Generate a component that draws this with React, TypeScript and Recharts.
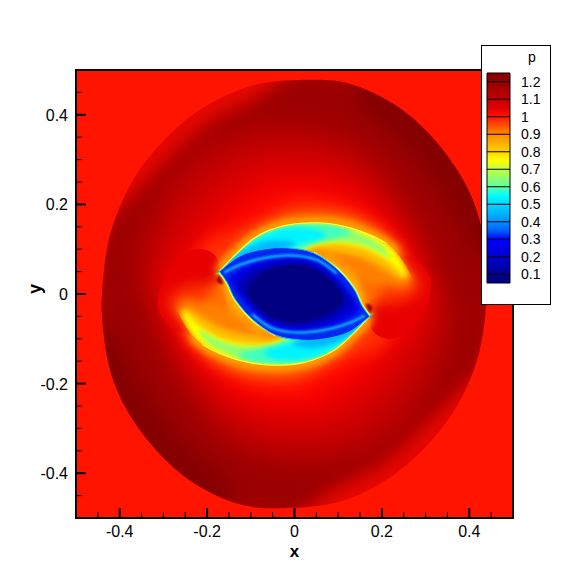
import React from 'react';
import { ScatterChart, Scatter, XAxis, YAxis, BarChart, Bar, ReferenceLine } from 'recharts';

type P = [number, number];

const MAJOR_TICKS = [-0.4, -0.2, 0, 0.2, 0.4];
const MINOR_TICKS = [-0.45, -0.35, -0.3, -0.25, -0.15, -0.1, -0.05, 0.05, 0.1, 0.15, 0.25, 0.3, 0.35, 0.45];
const LEVELS = [1.2, 1.1, 1, 0.9, 0.8, 0.7, 0.6, 0.5, 0.4, 0.3, 0.2, 0.1];
const LEVEL_RANGE: P = [0.05, 1.25];
const COLOR_VALUES = [1.25, 1.2, 1.1, 1.05, 1.0, 0.95, 0.9, 0.8, 0.75, 0.7, 0.6, 0.55, 0.5, 0.4, 0.35, 0.3, 0.2, 0.1, 0.05];
const COLOR_STOPS = ['#800000', '#960000', '#c00000', '#e00000', '#ff1400', '#ff5000', '#ff8c00', '#ffd000', '#ffff00', '#c0ff40', '#60ffa0', '#00ffff', '#00d8ff', '#0090ff', '#0060ff', '#0000ff', '#0000d0', '#000090', '#000080'];

const FRAME: P[] = [[-0.5, 0.5], [0.5, 0.5], [0.5, -0.5], [-0.5, -0.5]];
const SHOCK: P[] = [[0.024, 0.478], [0.127, 0.469], [0.23, 0.422], [0.31, 0.355], [0.379, 0.266], [0.42, 0.176], [0.438, 0.076], [0.44, -0.009], [0.422, -0.132], [0.376, -0.243], [0.308, -0.333], [0.216, -0.411], [0.102, -0.464], [-0.024, -0.478], [-0.127, -0.469], [-0.23, -0.422], [-0.31, -0.355], [-0.379, -0.266], [-0.42, -0.176], [-0.438, -0.076], [-0.44, 0.009], [-0.422, 0.132], [-0.376, 0.243], [-0.308, 0.333], [-0.216, 0.411], [-0.102, 0.464]];
const DARK_BAND: P[] = [[0.02, 0.5], [0.2, 0.48], [0.35, 0.4], [0.45, 0.27], [0.48, 0.1], [0.46, 0], [0.44, -0.14], [0.36, -0.23], [0.28, -0.305], [0.195, -0.38], [0.09, -0.435], [-0.02, -0.5], [-0.2, -0.48], [-0.35, -0.4], [-0.45, -0.27], [-0.48, -0.1], [-0.46, 0], [-0.44, 0.14], [-0.36, 0.23], [-0.28, 0.305], [-0.195, 0.38], [-0.09, 0.435]];
const CRESCENT_UR: P[] = [[0.15, 0.48], [0.3, 0.43], [0.42, 0.3], [0.5, 0.1], [0.42, 0.09], [0.36, 0.19], [0.295, 0.28], [0.22, 0.36], [0.16, 0.41]];
const CRESCENT_LL: P[] = [[-0.15, -0.48], [-0.3, -0.43], [-0.42, -0.3], [-0.5, -0.1], [-0.42, -0.09], [-0.36, -0.19], [-0.295, -0.28], [-0.22, -0.36], [-0.16, -0.41]];
const HALO_1: P[] = [[0, 0.38], [0.1, 0.36], [0.19, 0.3], [0.25, 0.22], [0.3, 0.14], [0.33, 0.05], [0.36, -0.02], [0.36, -0.1], [0.33, -0.19], [0.27, -0.29], [0.19, -0.35], [0.08, -0.38], [0, -0.38], [-0.1, -0.36], [-0.19, -0.3], [-0.25, -0.22], [-0.3, -0.14], [-0.33, -0.05], [-0.36, 0.02], [-0.36, 0.1], [-0.33, 0.19], [-0.27, 0.29], [-0.19, 0.35], [-0.08, 0.38]];
const HALO_2: P[] = [[0, 0.33], [0.09, 0.315], [0.16, 0.27], [0.22, 0.2], [0.265, 0.13], [0.29, 0.06], [0.325, -0.03], [0.31, -0.1], [0.27, -0.19], [0.2, -0.27], [0.13, -0.31], [0.05, -0.33], [0, -0.33], [-0.09, -0.315], [-0.16, -0.27], [-0.22, -0.2], [-0.265, -0.13], [-0.29, -0.06], [-0.325, 0.03], [-0.31, 0.1], [-0.27, 0.19], [-0.2, 0.27], [-0.13, 0.31], [-0.05, 0.33]];
const HALO_3: P[] = [[0, 0.28], [0.08, 0.27], [0.15, 0.235], [0.2, 0.18], [0.25, 0.12], [0.28, 0.06], [0.3, -0.03], [0.27, -0.09], [0.22, -0.16], [0.16, -0.22], [0.1, -0.26], [0.03, -0.28], [0, -0.28], [-0.08, -0.27], [-0.15, -0.235], [-0.2, -0.18], [-0.25, -0.12], [-0.28, -0.06], [-0.3, 0.03], [-0.27, 0.09], [-0.22, 0.16], [-0.16, 0.22], [-0.1, 0.26], [-0.03, 0.28]];
const HALO_4: P[] = [[0, 0.235], [0.08, 0.23], [0.15, 0.2], [0.2, 0.16], [0.24, 0.115], [0.27, 0.05], [0.27, -0.02], [0.22, -0.09], [0.17, -0.15], [0.1, -0.2], [0.04, -0.23], [0, -0.235], [-0.08, -0.23], [-0.15, -0.2], [-0.2, -0.16], [-0.24, -0.115], [-0.27, -0.05], [-0.27, 0.02], [-0.22, 0.09], [-0.17, 0.15], [-0.1, 0.2], [-0.04, 0.23]];
const HALO_5: P[] = [[0, 0.205], [0.08, 0.2], [0.14, 0.18], [0.19, 0.15], [0.235, 0.105], [0.26, 0.05], [0.25, -0.03], [0.2, -0.115], [0.15, -0.135], [0.09, -0.16], [0.03, -0.19], [0, -0.205], [-0.08, -0.2], [-0.14, -0.18], [-0.19, -0.15], [-0.235, -0.105], [-0.26, -0.05], [-0.25, 0.03], [-0.2, 0.115], [-0.15, 0.135], [-0.09, 0.16], [-0.03, 0.19]];
const HALO_6: P[] = [[-0.175, 0.06], [-0.13, 0.115], [-0.08, 0.15], [-0.02, 0.176], [0.05, 0.183], [0.12, 0.175], [0.18, 0.15], [0.22, 0.12], [0.24, 0.09], [0.17, -0.045], [0.175, -0.06], [0.13, -0.115], [0.08, -0.15], [0.02, -0.176], [-0.05, -0.183], [-0.12, -0.175], [-0.18, -0.15], [-0.22, -0.12], [-0.24, -0.09], [-0.17, 0.045]];
const HALO_7: P[] = [[-0.172, 0.055], [-0.135, 0.1], [-0.09, 0.137], [-0.026, 0.163], [0.05, 0.17], [0.12, 0.162], [0.175, 0.142], [0.215, 0.12], [0.235, 0.09], [0.15, 0.05], [0.172, -0.055], [0.135, -0.1], [0.09, -0.137], [0.026, -0.163], [-0.05, -0.17], [-0.12, -0.162], [-0.175, -0.142], [-0.215, -0.12], [-0.235, -0.09], [-0.15, -0.05]];
const BUBBLE_R: P[] = [[0.169, -0.054], [0.177, -0.08], [0.199, -0.097], [0.23, -0.099], [0.26, -0.082], [0.291, -0.047], [0.309, -0.006], [0.312, 0.031], [0.295, 0.06], [0.25, 0.085], [0.15, 0.04], [0.14, -0.02]];
const BUBBLE_L: P[] = [[-0.169, 0.054], [-0.177, 0.08], [-0.199, 0.097], [-0.23, 0.099], [-0.26, 0.082], [-0.291, 0.047], [-0.309, 0.006], [-0.312, -0.031], [-0.295, -0.06], [-0.25, -0.085], [-0.15, -0.04], [-0.14, 0.02]];
const ENVELOPE: P[] = [[-0.172, 0.05], [-0.172, 0.05], [-0.132, 0.091], [-0.087, 0.128], [-0.026, 0.152], [0.051, 0.159], [0.119, 0.15], [0.173, 0.132], [0.211, 0.113], [0.241, 0.083], [0.264, 0.046], [0.28, 0.009], [0.23, -0.02], [0.172, -0.05], [0.172, -0.05], [0.132, -0.091], [0.087, -0.128], [0.026, -0.152], [-0.051, -0.159], [-0.119, -0.15], [-0.173, -0.132], [-0.211, -0.113], [-0.241, -0.083], [-0.264, -0.046], [-0.28, -0.009], [-0.23, 0.02]];

const ARM_RED_R: P[] = [[0.06, 0.12], [0.17, 0.12], [0.22, 0.1], [0.25, 0.075], [0.27, 0.05], [0.29, 0.015], [0.25, -0.015], [0.196, -0.021], [0.157, -0.006], [0.135, 0.031]];
const ARM_RED_L: P[] = [[-0.06, -0.12], [-0.17, -0.12], [-0.22, -0.1], [-0.25, -0.075], [-0.27, -0.05], [-0.29, -0.015], [-0.25, 0.015], [-0.196, 0.021], [-0.157, 0.006], [-0.135, -0.031]];
const ARM_ORANGE_R: P[] = [[-0.172, 0.05], [-0.132, 0.091], [-0.087, 0.128], [-0.026, 0.155], [0.051, 0.162], [0.119, 0.153], [0.173, 0.134], [0.211, 0.113], [0.241, 0.083], [0.26, 0.05], [0.27, 0.03], [0.25, 0.012], [0.22, 0.018], [0.18, 0.025], [0.142, 0.039], [0.104, 0.065], [0.058, 0.087]];
const ARM_ORANGE_L: P[] = [[0.172, -0.05], [0.132, -0.091], [0.087, -0.128], [0.026, -0.155], [-0.051, -0.162], [-0.119, -0.153], [-0.173, -0.134], [-0.211, -0.113], [-0.241, -0.083], [-0.26, -0.05], [-0.27, -0.03], [-0.25, -0.012], [-0.22, -0.018], [-0.18, -0.025], [-0.142, -0.039], [-0.104, -0.065], [-0.058, -0.087]];
const ARM_GOLD_R: P[] = [[-0.172, 0.05], [-0.132, 0.093], [-0.087, 0.13], [-0.026, 0.155], [0.051, 0.162], [0.119, 0.153], [0.173, 0.135], [0.211, 0.116], [0.241, 0.085], [0.264, 0.046], [0.241, 0.035], [0.203, 0.057], [0.157, 0.08], [0.112, 0.091], [0.066, 0.097], [0.035, 0.098]];
const ARM_GOLD_L: P[] = [[0.172, -0.05], [0.132, -0.093], [0.087, -0.13], [0.026, -0.155], [-0.051, -0.162], [-0.119, -0.153], [-0.173, -0.135], [-0.211, -0.116], [-0.241, -0.085], [-0.264, -0.046], [-0.241, -0.035], [-0.203, -0.057], [-0.157, -0.08], [-0.112, -0.091], [-0.066, -0.097], [-0.035, -0.098]];
const ARM_YELLOW_R: P[] = [[-0.172, 0.05], [-0.132, 0.093], [-0.087, 0.13], [-0.026, 0.155], [0.051, 0.162], [0.119, 0.153], [0.173, 0.135], [0.226, 0.098], [0.249, 0.057], [0.253, 0.037], [0.222, 0.068], [0.18, 0.094], [0.135, 0.109], [0.081, 0.113], [0.043, 0.106], [0.02, 0.098]];
const ARM_YELLOW_L: P[] = [[0.172, -0.05], [0.132, -0.093], [0.087, -0.13], [0.026, -0.155], [-0.051, -0.162], [-0.119, -0.153], [-0.173, -0.135], [-0.226, -0.098], [-0.249, -0.057], [-0.253, -0.037], [-0.222, -0.068], [-0.18, -0.094], [-0.135, -0.109], [-0.081, -0.113], [-0.043, -0.106], [-0.02, -0.098]];
const ARM_GREEN_R: P[] = [[-0.172, 0.05], [-0.132, 0.092], [-0.087, 0.128], [-0.026, 0.152], [0.051, 0.158], [0.119, 0.147], [0.165, 0.128], [0.2, 0.107], [0.219, 0.08], [0.184, 0.098], [0.142, 0.113], [0.089, 0.118], [0.043, 0.112], [0.005, 0.098]];
const ARM_GREEN_L: P[] = [[0.172, -0.05], [0.132, -0.092], [0.087, -0.128], [0.026, -0.152], [-0.051, -0.158], [-0.119, -0.147], [-0.165, -0.128], [-0.2, -0.107], [-0.219, -0.08], [-0.184, -0.098], [-0.142, -0.113], [-0.089, -0.118], [-0.043, -0.112], [-0.005, -0.098]];
const ARM_AQUA_R: P[] = [[-0.172, 0.05], [-0.132, 0.09], [-0.087, 0.127], [-0.026, 0.15], [0.05, 0.155], [0.1, 0.15], [0.128, 0.136], [0.09, 0.124], [0.045, 0.114], [0.005, 0.098]];
const ARM_AQUA_L: P[] = [[0.172, -0.05], [0.132, -0.09], [0.087, -0.127], [0.026, -0.15], [-0.05, -0.155], [-0.1, -0.15], [-0.128, -0.136], [-0.09, -0.124], [-0.045, -0.114], [-0.005, -0.098]];
const ARM_CYAN_R: P[] = [[-0.172, 0.05], [-0.132, 0.088], [-0.087, 0.123], [-0.026, 0.145], [0.025, 0.148], [0.06, 0.14], [0.07, 0.128], [0.04, 0.118], [0.01, 0.11], [-0.018, 0.1]];
const ARM_CYAN_L: P[] = [[0.172, -0.05], [0.132, -0.088], [0.087, -0.123], [0.026, -0.145], [-0.025, -0.148], [-0.06, -0.14], [-0.07, -0.128], [-0.04, -0.118], [-0.01, -0.11], [0.018, -0.1]];
const ARM_DEEP_R: P[] = [[-0.172, 0.05], [-0.135, 0.086], [-0.09, 0.11], [-0.04, 0.12], [0.005, 0.112], [-0.03, 0.1]];
const ARM_DEEP_L: P[] = [[0.172, -0.05], [0.135, -0.086], [0.09, -0.11], [0.04, -0.12], [-0.005, -0.112], [0.03, -0.1]];
const RIM_R: P[] = [[-0.172, 0.05], [-0.132, 0.091], [-0.087, 0.128], [-0.026, 0.152], [0.051, 0.159], [0.119, 0.15], [0.173, 0.132], [0.211, 0.113]];
const RIM_L: P[] = [[0.172, -0.05], [0.132, -0.091], [0.087, -0.128], [0.026, -0.152], [-0.051, -0.159], [-0.119, -0.15], [-0.173, -0.132], [-0.211, -0.113]];
const LENS: P[] = [[-0.172, 0.05], [-0.172, 0.05], [-0.125, 0.085], [-0.071, 0.1], [-0.018, 0.103], [0.043, 0.092], [0.096, 0.057], [0.135, 0.013], [0.154, -0.025], [0.172, -0.05], [0.172, -0.05], [0.125, -0.085], [0.071, -0.1], [0.018, -0.103], [-0.043, -0.092], [-0.096, -0.057], [-0.135, -0.013], [-0.154, 0.025]];
const LENS_EDGE_R: P[] = [[0.043, 0.092], [0.096, 0.057], [0.135, 0.013], [0.154, -0.025], [0.172, -0.05]];
const LENS_EDGE_L: P[] = [[-0.043, -0.092], [-0.096, -0.057], [-0.135, -0.013], [-0.154, 0.025], [-0.172, 0.05]];
const LENS_BLUE: P[] = [[-0.148, 0.037], [-0.102, 0.065], [-0.048, 0.077], [0.005, 0.081], [0.058, 0.067], [0.104, 0.028], [0.135, -0.013], [0.148, -0.037], [0.102, -0.065], [0.048, -0.077], [-0.005, -0.081], [-0.058, -0.067], [-0.104, -0.028], [-0.135, 0.013]];
const LENS_DEEP: P[] = [[-0.132, 0.02], [-0.094, 0.054], [-0.041, 0.07], [0.013, 0.072], [0.066, 0.054], [0.112, 0.009], [0.132, -0.02], [0.094, -0.054], [0.041, -0.07], [-0.013, -0.072], [-0.066, -0.054], [-0.112, -0.009]];
const LENS_CORE: P[] = [[-0.106, 0.02], [-0.071, 0.05], [-0.026, 0.064], [0.02, 0.065], [0.066, 0.046], [0.104, 0.009], [0.109, -0.021], [0.074, -0.047], [0.028, -0.063], [-0.018, -0.064], [-0.064, -0.047], [-0.102, -0.01]];
const STREAK_U: P[] = [[-0.161, 0.048], [-0.125, 0.065], [-0.071, 0.08], [-0.01, 0.086], [0.051, 0.076], [0.096, 0.046]];
const STREAK_D: P[] = [[0.161, -0.048], [0.125, -0.065], [0.071, -0.08], [0.01, -0.086], [-0.051, -0.076], [-0.096, -0.046]];
const SPOT_R: P[] = [[0.163, -0.022], [0.178, -0.028], [0.172, -0.042]];
const SPOT_L: P[] = [[-0.163, 0.022], [-0.178, 0.028], [-0.172, 0.042]];

type Layer = { points: P[]; fill?: string; blur?: number; clip?: string; stroke?: string; sw?: number; open?: boolean; straight?: boolean; defineClip?: string };

const LAYERS: Layer[] = [
  { points: FRAME, fill: '#ff1400', straight: true },
  { points: SHOCK, fill: '#e60800', defineClip: 'shockClip' },
  { points: DARK_BAND, fill: '#9c0000', blur: 9, clip: 'shockClip' },
  { points: CRESCENT_UR, fill: '#860000', blur: 9, clip: 'shockClip' },
  { points: CRESCENT_LL, fill: '#860000', blur: 9, clip: 'shockClip' },
  { points: HALO_1, fill: '#b60000', blur: 13, clip: 'shockClip' },
  { points: HALO_2, fill: '#d20000', blur: 13 },
  { points: HALO_3, fill: '#ec0000', blur: 12 },
  { points: HALO_4, fill: '#ff0800', blur: 10 },
  { points: HALO_5, fill: '#ff3000', blur: 8 },
  { points: BUBBLE_R, fill: '#e80000', blur: 0.6 },
  { points: BUBBLE_L, fill: '#e80000', blur: 0.6 },
  { points: ENVELOPE, defineClip: 'envClip' },
  { points: ARM_RED_R, fill: '#ff3800', blur: 7 },
  { points: ARM_RED_L, fill: '#ff3800', blur: 7 },
  { points: HALO_6, fill: '#ff7000', blur: 6 },
  { points: HALO_7, fill: '#ffb000', blur: 3 },
  { points: ARM_ORANGE_R, fill: '#ff8000', blur: 4 },
  { points: ARM_ORANGE_L, fill: '#ff8000', blur: 4 },
  { points: ARM_GOLD_R, fill: '#ffc000', blur: 3, clip: 'envClip' },
  { points: ARM_GOLD_L, fill: '#ffc000', blur: 3, clip: 'envClip' },
  { points: ARM_YELLOW_R, fill: '#ffff00', blur: 2.5, clip: 'envClip' },
  { points: ARM_YELLOW_L, fill: '#ffff00', blur: 2.5, clip: 'envClip' },
  { points: ARM_GREEN_R, fill: '#90ff70', blur: 2, clip: 'envClip' },
  { points: ARM_GREEN_L, fill: '#90ff70', blur: 2, clip: 'envClip' },
  { points: ARM_AQUA_R, fill: '#40ffc0', blur: 2.5, clip: 'envClip' },
  { points: ARM_AQUA_L, fill: '#40ffc0', blur: 2.5, clip: 'envClip' },
  { points: ARM_CYAN_R, fill: '#00f4ff', blur: 2.5, clip: 'envClip' },
  { points: ARM_CYAN_L, fill: '#00f4ff', blur: 2.5, clip: 'envClip' },
  { points: ARM_DEEP_R, fill: '#00b8ff', blur: 2, clip: 'envClip' },
  { points: ARM_DEEP_L, fill: '#00b8ff', blur: 2, clip: 'envClip' },
  { points: RIM_R, stroke: '#ffff30', sw: 1.2, open: true },
  { points: RIM_L, stroke: '#ffff30', sw: 1.2, open: true },
  { points: SPOT_R, fill: '#a00000', blur: 1 },
  { points: SPOT_L, fill: '#a00000', blur: 1 },
  { points: LENS_EDGE_R, stroke: '#ffff40', sw: 3, open: true },
  { points: LENS_EDGE_L, stroke: '#ffff40', sw: 3, open: true },
  { points: LENS, fill: '#0028f0', stroke: '#00d0ff', sw: 1, defineClip: 'lensClip' },
  { points: LENS_BLUE, fill: '#0000e8', blur: 2, clip: 'lensClip' },
  { points: STREAK_U, stroke: '#10c0ff', sw: 2.5, blur: 1, open: true, clip: 'lensClip' },
  { points: STREAK_D, stroke: '#10c0ff', sw: 2.5, blur: 1, open: true, clip: 'lensClip' },
  { points: LENS_DEEP, fill: '#0000b0', blur: 3, clip: 'lensClip' },
  { points: LENS_CORE, fill: '#000080', blur: 1 },
];

function buildPath(pts: { x: number; y: number }[], layer: Layer): string {
  const n = pts.length;
  if (layer.straight) return 'M' + pts.map((p) => `${p.x},${p.y}`).join('L') + 'Z';
  const at = (i: number) => (layer.open ? pts[Math.max(0, Math.min(n - 1, i))] : pts[(i + n) % n]);
  let d = `M${pts[0].x},${pts[0].y}`;
  const last = layer.open ? n - 1 : n;
  for (let i = 0; i < last; i++) {
    const p0 = at(i - 1), p1 = at(i), p2 = at(i + 1), p3 = at(i + 2);
    const c1x = p1.x + (p2.x - p0.x) / 6, c1y = p1.y + (p2.y - p0.y) / 6;
    const c2x = p2.x - (p3.x - p1.x) / 6, c2y = p2.y - (p3.y - p1.y) / 6;
    d += `C${c1x},${c1y} ${c2x},${c2y} ${p2.x},${p2.y}`;
  }
  return layer.open ? d : d + 'Z';
}

const makeRenderer = (layer: Layer, index: number) => (props: any) => {
  const d = buildPath(props.points, layer);
  const filterId = `blur${index}`;
  const draw = layer.fill || layer.stroke;
  return (
    <g clipPath={layer.clip ? `url(#${layer.clip})` : undefined}>
      {layer.defineClip && (
        <clipPath id={layer.defineClip}>
          <path d={d} />
        </clipPath>
      )}
      {layer.blur ? (
        <filter id={filterId} x="-40%" y="-40%" width="180%" height="180%" colorInterpolationFilters="sRGB">
          <feGaussianBlur stdDeviation={layer.blur} />
        </filter>
      ) : null}
      {draw ? (
        <path
          d={d}
          fill={layer.fill ?? 'none'}
          stroke={layer.stroke ?? 'none'}
          strokeWidth={layer.sw ?? 0}
          filter={layer.blur ? `url(#${filterId})` : undefined}
        />
      ) : null}
    </g>
  );
};

const noMark = () => <g />;
const FONT = '"Liberation Sans", Arial, sans-serif';
const fmt = (v: number) => String(v);
const isMajor = (v: number) => MAJOR_TICKS.includes(v);

const XTick = ({ x, y, payload }: any) => {
  const v = payload.value;
  const major = isMajor(v);
  return (
    <g>
      <line x1={x} x2={x} y1={y} y2={y - (major ? 10 : 6)} stroke="#000" strokeWidth={major ? 2 : 1} />
      {major && (
        <text x={x} y={y + 19} textAnchor="middle" fontSize={16} fill="#000" fontFamily={FONT}>
          {fmt(v)}
        </text>
      )}
    </g>
  );
};

const YTick = ({ x, y, payload }: any) => {
  const v = payload.value;
  const major = isMajor(v);
  return (
    <g>
      <line x1={x} x2={x + (major ? 10 : 6)} y1={y} y2={y} stroke="#000" strokeWidth={major ? 2 : 1} />
      {major && (
        <text x={x - 8} y={y + 6} textAnchor="end" fontSize={16} fill="#000" fontFamily={FONT}>
          {fmt(v)}
        </text>
      )}
    </g>
  );
};

const BAR_ROWS = [{ name: 'p', range: LEVEL_RANGE }];
const ALL_TICKS = [...MAJOR_TICKS, ...MINOR_TICKS];

export default function App() {
  return (
    <div style={{ position: 'absolute', left: 0, top: 0, width: 583, height: 583, background: '#fff' }}>
      <ScatterChart width={583} height={583} margin={{ top: 70, right: 70, bottom: 0, left: 0 }}>
        {LAYERS.map((layer, i) => (
          <Scatter
            key={i}
            data={layer.points.map(([x, y]) => ({ x, y }))}
            dataKey="y"
            isAnimationActive={false}
            shape={noMark}
            line={makeRenderer(layer, i)}
            legendType="none"
          />
        ))}
        <Scatter
          data={FRAME.map(([x, y]) => ({ x, y }))}
          dataKey="y"
          isAnimationActive={false}
          shape={noMark}
          line={makeRenderer({ points: FRAME, straight: true, stroke: '#000', sw: 2 }, 99)}
        />
        <XAxis
          type="number"
          dataKey="x"
          domain={[-0.5, 0.5]}
          ticks={ALL_TICKS}
          interval={0}
          height={65}
          tickSize={0}
          tickMargin={0}
          tick={XTick}
          tickLine={false}
          axisLine={false}
          label={{ value: 'x', position: 'insideBottom', offset: 26, fontSize: 17, fontWeight: 'bold', fill: '#000', fontFamily: FONT }}
        />
        <YAxis
          type="number"
          dataKey="y"
          domain={[-0.5, 0.5]}
          ticks={ALL_TICKS}
          interval={0}
          width={76}
          tickSize={0}
          tickMargin={0}
          tick={YTick}
          tickLine={false}
          axisLine={false}
          label={{ value: 'y', angle: -90, position: 'insideLeft', offset: 35, fontSize: 18, fontWeight: 'bold', fill: '#000', fontFamily: FONT }}
        />
      </ScatterChart>
      <div
        style={{
          position: 'absolute',
          left: 481,
          top: 45,
          width: 70,
          height: 260,
          boxSizing: 'border-box',
          border: '1px solid #000',
          background: '#fff',
          fontFamily: FONT,
        }}
      >
        <div style={{ position: 'absolute', left: 46, top: 3, fontSize: 14, lineHeight: '16px', color: '#000' }}>p</div>
        <BarChart
          width={68}
          height={258}
          data={BAR_ROWS}
          barCategoryGap={0}
          margin={{ top: 27, right: 0, bottom: 21, left: 5 }}
        >
          <defs>
            <linearGradient id="levelGradient" x1="0" y1="0" x2="0" y2="1">
              {COLOR_VALUES.map((v, i) => (
                <stop key={i} offset={(LEVEL_RANGE[1] - v) / (LEVEL_RANGE[1] - LEVEL_RANGE[0])} stopColor={COLOR_STOPS[i]} />
              ))}
            </linearGradient>
          </defs>
          <XAxis dataKey="name" hide />
          <YAxis
            orientation="right"
            type="number"
            domain={LEVEL_RANGE}
            ticks={LEVELS}
            interval={0}
            width={40}
            tickLine={false}
            axisLine={false}
            tickMargin={11}
            tickSize={0}
            tick={{ fontSize: 14, fill: '#000', fontFamily: FONT }}
          />
          <Bar dataKey="range" fill="url(#levelGradient)" stroke="#000" strokeWidth={1} isAnimationActive={false} />
          {LEVELS.map((v) => (
            <ReferenceLine key={v} y={v} stroke="#000" strokeWidth={1} />
          ))}
        </BarChart>
      </div>
    </div>
  );
}
